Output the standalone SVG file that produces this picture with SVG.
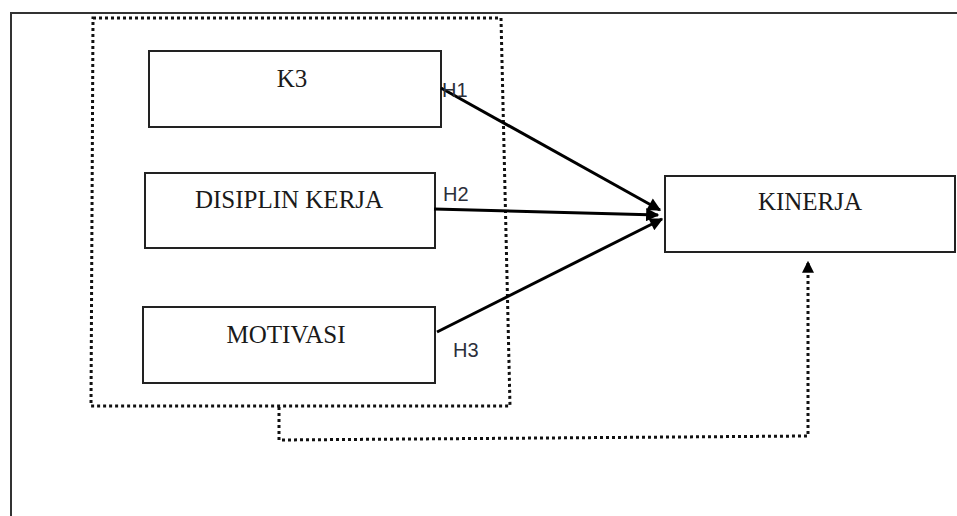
<svg xmlns="http://www.w3.org/2000/svg" width="957" height="516" viewBox="0 0 957 516">
  <style>
    .frame { fill: none; stroke: #333; stroke-width: 2; }
    .box { fill: #fff; stroke: #222; stroke-width: 2; }
    .label { font-family: "Liberation Serif", "Times New Roman", serif; font-size: 25px; fill: #1a1a1a; text-anchor: middle; }
    .hyp { font-family: "Liberation Sans", Arial, sans-serif; font-size: 20px; fill: #2b2f3a; }
    .dots { fill: none; stroke: #111; stroke-width: 3; stroke-dasharray: 3 3; }
    .arrow { fill: none; stroke: #000; stroke-width: 3; }
  </style>
  <defs>
    <marker id="head" viewBox="0 0 10 10" refX="9" refY="5" markerWidth="5.5" markerHeight="4.4" orient="auto" markerUnits="strokeWidth">
      <path d="M0,0 L10,5 L0,10 z" fill="#000"/>
    </marker>
    <marker id="headDot" viewBox="0 0 10 10" refX="9" refY="5" markerWidth="4" markerHeight="4.4" orient="auto" markerUnits="strokeWidth">
      <path d="M0,0 L10,5 L0,10 z" fill="#000"/>
    </marker>
  </defs>

  <rect width="957" height="516" fill="#fff"/>

  <!-- page frame -->
  <path class="frame" d="M11,516 V13 H957"/>

  <!-- grouping of the independent variables -->
  <g id="group-independent">
    <path class="dots" d="M93,18 L501,18 L510,406 L91,406 Z"/>
  </g>

  <g id="node-k3">
    <rect class="box" x="149" y="51" width="292" height="76"/>
    <text class="label" x="292" y="87">K3</text>
  </g>

  <g id="node-disiplin">
    <rect class="box" x="145" y="173" width="290" height="75"/>
    <text class="label" x="289" y="208">DISIPLIN KERJA</text>
  </g>

  <g id="node-motivasi">
    <rect class="box" x="143" y="307" width="292" height="76"/>
    <text class="label" x="286" y="343">MOTIVASI</text>
  </g>

  <g id="node-kinerja">
    <rect class="box" x="665" y="176" width="290" height="76"/>
    <text class="label" x="810" y="210">KINERJA</text>
  </g>

  <g id="connectors">
    <line class="arrow" x1="441" y1="88" x2="660" y2="210" marker-end="url(#head)"/>
    <line class="arrow" x1="434" y1="209" x2="658" y2="215" marker-end="url(#head)"/>
    <line class="arrow" x1="437" y1="332" x2="662" y2="219" marker-end="url(#head)"/>
    <path class="dots" d="M279,407 V440 L808,436 V262" marker-end="url(#headDot)"/>
  </g>

  <g id="labels">
    <text class="hyp" x="442" y="97">H1</text>
    <text class="hyp" x="443" y="201">H2</text>
    <text class="hyp" x="453" y="357">H3</text>
  </g>
</svg>
